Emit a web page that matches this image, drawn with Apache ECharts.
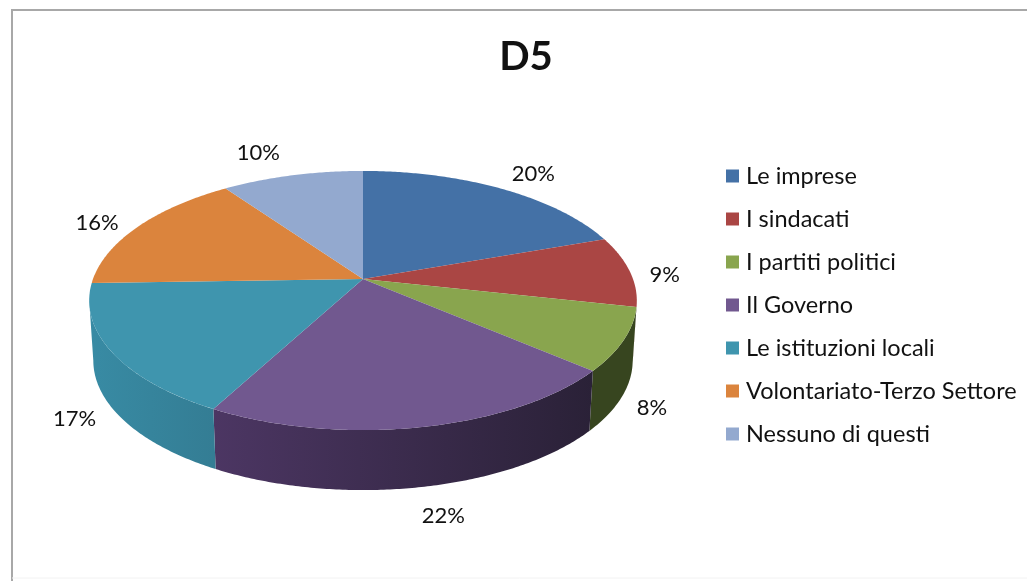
<!DOCTYPE html>
<html><head><meta charset="utf-8">
<style>html,body{margin:0;padding:0;background:#fff}#c{width:1027px;height:581px;filter:blur(0.4px)}</style>
<script src="https://cdn.jsdelivr.net/npm/echarts@6/dist/echarts.min.js"></script>
</head><body><div id="c"></div>
<script>
const categories = ['Le imprese','I sindacati','I partiti politici','Il Governo','Le istituzioni locali','Volontariato-Terzo Settore','Nessuno di questi'];
const values = [20,9,8,22,17,16,10];
const colors = ['#4471a6','#aa4644','#89a54e','#71588f','#3f95ae','#db843d','#93a9cf'];
const sideStops = [
  ['#2c4a6e','#2c4a6e'],['#6e2c2b','#6e2c2b'],['#37451f','#37451f'],
  ['#4c3663','#2a2137'],['#388ba4','#347d94'],['#8a5225','#8a5225'],['#5f6f8a','#5f6f8a']];
const labelOffsets = [[33,-15],[35,4],[28,8],[21,29],[-37,7],[-41,-4],[-34,-22]];

const CX=363, CY=279, RX=270, RY=126, K=0.166, DEPTH=60, SHRINK=0.985;
const total = values.reduce((a,b)=>a+b,0);
const startAngles = values.map((v,i)=>values.slice(0,i).reduce((a,b)=>a+b,0)/total*2*Math.PI);
const project = (t,f=1)=>{
  const X=Math.sin(t)*f, Y=-Math.cos(t)*f, w=1-K*Y;
  return [CX+RX*X/w, CY+RY*Y/w];
};
const lower = p=>[CX+(p[0]-CX)*SHRINK, p[1]+DEPTH];
const arc = (a,b)=>{
  const n=Math.max(2,Math.ceil((b-a)/0.01)), pts=[];
  for(let j=0;j<=n;j++) pts.push(project(a+(b-a)*j/n));
  return pts;
};
const visA=Math.acos(-K), visB=2*Math.PI-visA;

function makeRender(i){
  return function(params,api){
    const v=api.value(0), a=startAngles[i], b=a+v/total*2*Math.PI;
    const kids=[];
    const sa=Math.max(a,visA), sb=Math.min(b,visB);
    if(sb>sa){
      const top=arc(sa,sb), bot=top.map(lower).reverse();
      const xs=top.map(p=>p[0]);
      kids.push({type:'polygon',z2:10,shape:{points:top.concat(bot)},
        style:{fill:new echarts.graphic.LinearGradient(Math.min(...xs),0,Math.max(...xs),0,
          [{offset:0,color:sideStops[i][0]},{offset:1,color:sideStops[i][1]}],true)}});
    }
    kids.push({type:'polygon',z2:100,shape:{points:[[CX,CY]].concat(arc(a,b))},style:{fill:colors[i]}});
    const mid=project((a+b)/2), fr=Math.cos((a+b)/2)<0;
    kids.push({type:'text',z2:200,x:mid[0]+labelOffsets[i][0],y:mid[1]+labelOffsets[i][1]+(fr?DEPTH:0),
      style:{text:v+'%',fill:'#111',font:'22px Lato',align:'center',verticalAlign:'middle'}});
    return {type:'group',children:kids};
  };
}
const chart=echarts.init(document.getElementById('c'),null,{renderer:'canvas'});
chart.setOption({
  animation:false,
  backgroundColor:'#fff',
  title:{text:'D5',left:521,top:52,textAlign:'center',textVerticalAlign:'middle',
    textStyle:{fontFamily:'Lato',fontWeight:'bold',fontSize:40,color:'#111'}},
  legend:{orient:'vertical',left:721,top:159,itemWidth:13,itemHeight:13,itemGap:19,icon:'rect',selectedMode:false,
    data:categories,textStyle:{fontFamily:'Lato',fontSize:23.5,color:'#111',padding:[0,0,0,2],lineHeight:22}},
  graphic:[
    {type:'polyline',z:-1,shape:{points:[[12,581],[12,10],[1027,10]]},style:{fill:'none',stroke:'#a8a8a8',lineWidth:2}},
    {type:'line',z:-1,shape:{x1:12,y1:578,x2:1027,y2:578},style:{stroke:'#f2f2f2',lineWidth:1}}
  ],
  series:categories.map((name,i)=>({
    type:'custom',name,coordinateSystem:'none',silent:true,
    itemStyle:{color:colors[i]},
    renderItem:makeRender(i),
    data:[[values[i]]]
  }))
});
</script></body></html>
